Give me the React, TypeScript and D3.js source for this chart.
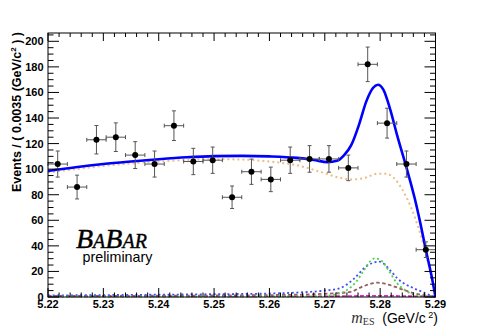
import React from "react";
import * as d3 from "d3";

// m_ES bin centres (bin width 0.0035 GeV/c^2) and event counts
const binCentres = [
  5.22175, 5.22525, 5.22875, 5.23225, 5.23575, 5.23925, 5.24275, 5.24625, 5.24975, 5.25325,
  5.25675, 5.26025, 5.26375, 5.26725, 5.27075, 5.27425, 5.27775, 5.28125, 5.28475, 5.28825,
];
const events = [104, 86, 123, 125, 111, 104, 134, 106, 107, 78, 98, 92, 107, 108, 108, 101, 182, 136, 104, 37];
const eventErrors = [
  10.2, 9.3, 11.1, 11.2, 10.5, 10.2, 11.6, 10.3, 10.3, 8.8, 9.9, 9.6, 10.3, 10.4, 10.4, 10, 13.5, 11.7, 10.2, 6.1,
];
const halfBin = 0.00175;

// fit components as [mES, events]
const totalFit: [number, number][] = [
  [5.22, 98.5], [5.225, 101.5], [5.23, 104], [5.235, 106], [5.24, 107.8], [5.245, 109.3],
  [5.25, 110.2], [5.255, 110.4], [5.26, 110], [5.265, 108.8], [5.268, 107.2], [5.2705, 105.5],
  [5.2722, 106.5], [5.2735, 111], [5.2748, 119], [5.2762, 135], [5.2775, 153], [5.2787, 163.5],
  [5.2796, 166], [5.2806, 162], [5.2818, 147], [5.2831, 126], [5.2849, 99], [5.2862, 78],
  [5.2873, 57], [5.2882, 38], [5.2894, 14], [5.29, 0],
];
const background: [number, number][] = [
  [5.22, 97.5], [5.225, 100], [5.23, 102.5], [5.235, 104.5], [5.24, 106], [5.245, 107.2],
  [5.25, 107.8], [5.255, 107.5], [5.26, 106], [5.265, 103], [5.2695, 97.5], [5.2725, 93.5],
  [5.275, 92], [5.2775, 93.5], [5.2795, 96.5], [5.281, 96.5], [5.2825, 93], [5.284, 84],
  [5.2855, 71], [5.287, 53], [5.288, 38], [5.289, 21], [5.2896, 9], [5.29, 0],
];
const signalA: [number, number][] = [
  [5.22, 0.3], [5.265, 0.4], [5.27, 0.8], [5.272, 2], [5.274, 5.5], [5.2755, 11], [5.2768, 19],
  [5.278, 27], [5.279, 30.2], [5.2802, 28.5], [5.2815, 21], [5.283, 11], [5.2846, 5],
  [5.286, 2], [5.2875, 0.8], [5.29, 0.3],
];
const signalB: [number, number][] = [
  [5.22, 1.2], [5.23, 1.5], [5.24, 1.8], [5.25, 2.2], [5.26, 2.7], [5.265, 3.5], [5.2705, 5.3],
  [5.2728, 7], [5.2752, 14], [5.2775, 24], [5.2799, 27.6], [5.282, 20], [5.2831, 14.6],
  [5.2861, 6.8], [5.2876, 4], [5.289, 1.5], [5.29, 0],
];
const peakingBkg: [number, number][] = [
  [5.22, 0.8], [5.24, 1], [5.26, 1.5], [5.27, 2.5], [5.2746, 4], [5.277, 8.5], [5.2795, 11.2],
  [5.282, 9], [5.2843, 5.5], [5.2865, 2.5], [5.289, 0.8], [5.29, 0.3],
];
const otherBkg: [number, number][] = [
  [5.22, 0.4], [5.25, 0.5], [5.27, 0.6], [5.28, 1], [5.285, 0.7], [5.29, 0.4],
];

const xTickLabels = ["5.22", "5.23", "5.24", "5.25", "5.26", "5.27", "5.28", "5.29"];
const yTickLabels = ["0", "20", "40", "60", "80", "100", "120", "140", "160", "180", "200"];

const W = 486;
const H = 330;
const left = 48;
const right = 435.5;
const top = 33;
const bottom = 297;

export default function App() {
  const x = d3.scaleLinear().domain([5.22, 5.29]).range([left, right]);
  const y = d3.scaleLinear().domain([0, 206.5]).range([bottom, top]);
  const line = d3
    .line<[number, number]>()
    .x((d) => x(d[0]))
    .y((d) => y(d[1]))
    .curve(d3.curveMonotoneX);

  const xMinor = x.ticks(35);
  const yMinor = y.ticks(40);
  const sans = "'Liberation Sans', Arial, sans-serif";
  const serif = "'Liberation Serif', 'Times New Roman', serif";

  return (
    <svg width={W} height={H} style={{ position: "absolute", left: 0, top: 0, background: "#fff" }}>
      <defs>
        <clipPath id="plot">
          <rect x={left} y={top} width={right - left} height={bottom - top + 1} />
        </clipPath>
      </defs>

      {/* fit components */}
      <g clipPath="url(#plot)" fill="none">
        <path d={line(otherBkg) ?? ""} stroke="#ee22cc" strokeWidth={1.6} strokeDasharray="4,2" />
        <path d={line(peakingBkg) ?? ""} stroke="#9a5e62" strokeWidth={1.8} strokeDasharray="3.5,2.5" />
        <path d={line(signalB) ?? ""} stroke="#3d4dff" strokeWidth={1.8} strokeDasharray="2,2.6" />
        <path d={line(signalA) ?? ""} stroke="#4fd24a" strokeWidth={1.8} strokeDasharray="2,2.6" />
        <path d={line(background) ?? ""} stroke="#ebbd84" strokeWidth={2} strokeDasharray="2,3" />
        <path d={line(totalFit) ?? ""} stroke="#0000ff" strokeWidth={2.6} />
      </g>

      {/* data points */}
      <g stroke="#555" strokeWidth={1}>
        {binCentres.map((c, i) => {
          const cx = x(c);
          const cy = y(events[i]);
          const x0 = x(c - halfBin);
          const x1 = x(c + halfBin);
          const yTop = y(events[i] + eventErrors[i]);
          const yBot = y(events[i] - eventErrors[i]);
          return (
            <g key={i}>
              <line x1={x0} x2={x1} y1={cy} y2={cy} />
              <line x1={cx} x2={cx} y1={yTop} y2={yBot} />
              <line x1={cx - 2} x2={cx + 2} y1={yTop} y2={yTop} />
              <line x1={cx - 2} x2={cx + 2} y1={yBot} y2={yBot} />
              <line x1={x0} x2={x0} y1={cy - 2} y2={cy + 2} />
              <line x1={x1} x2={x1} y1={cy - 2} y2={cy + 2} />
              <circle cx={cx} cy={cy} r={3} fill="#000" stroke="none" />
            </g>
          );
        })}
      </g>

      {/* frame and ticks */}
      <g stroke="#000" strokeWidth={1} fill="none">
        <rect x={left} y={top} width={right - left} height={bottom - top} />
        {xMinor.map((t, i) => {
          const major = Math.abs(t * 100 - Math.round(t * 100)) < 1e-6;
          const len = major ? 9 : 4.5;
          return (
            <g key={"xt" + i}>
              <line x1={x(t)} x2={x(t)} y1={bottom} y2={bottom - len} />
              <line x1={x(t)} x2={x(t)} y1={top} y2={top + (major ? 8 : 4)} />
            </g>
          );
        })}
        {yMinor.map((t, i) => {
          const major = t % 20 === 0;
          const len = major ? 11 : 5.5;
          return (
            <g key={"yt" + i}>
              <line x1={left} x2={left + len} y1={y(t)} y2={y(t)} />
              <line x1={right} x2={right - len} y1={y(t)} y2={y(t)} />
            </g>
          );
        })}
      </g>

      {/* tick labels */}
      <g fontFamily={sans} fontWeight="bold" fontSize={11} fill="#000">
        {xTickLabels.map((l) => (
          <text key={l} x={x(+l)} y={308} textAnchor="middle">
            {l}
          </text>
        ))}
        {yTickLabels.map((l) => (
          <text key={l} x={43.5} y={y(+l) + 4} textAnchor="end">
            {l}
          </text>
        ))}
      </g>

      {/* y title */}
      <text
        transform="translate(21,32) rotate(-90)"
        textAnchor="end"
        fontFamily={sans}
        fontWeight="bold"
        fontSize={12.5}
        fill="#000"
      >
        Events / ( 0.0035 (GeV/c
        <tspan fontSize={8} dy={-5}>2</tspan>
        <tspan dy={5}> ) )</tspan>
      </text>

      {/* x title */}
      <text x={438} y={323} textAnchor="end" fill="#000" fontFamily={sans} fontSize={14}>
        <tspan fontFamily={serif} fontStyle="italic" fontSize={16} fill="#333">m</tspan>
        <tspan fontFamily={serif} fontSize={10} dy={2} fill="#333">ES</tspan>
        <tspan dy={-2}>{"\u00a0\u00a0(GeV/c"}</tspan>
        <tspan fontSize={9} dy={-5}>{"\u00a02"}</tspan>
        <tspan dy={5}>)</tspan>
      </text>

      {/* BaBar logo */}
      <text x={76} y={248} fontFamily={serif} fontStyle="italic" fill="#000" stroke="#000" strokeWidth={0.4}>
        <tspan fontSize={28}>B</tspan>
        <tspan fontSize={20}>A</tspan>
        <tspan fontSize={28}>B</tspan>
        <tspan fontSize={20}>AR</tspan>
      </text>
      <text x={82.5} y={262} fontFamily={sans} fontSize={14.3} fill="#000">
        preliminary
      </text>
    </svg>
  );
}
